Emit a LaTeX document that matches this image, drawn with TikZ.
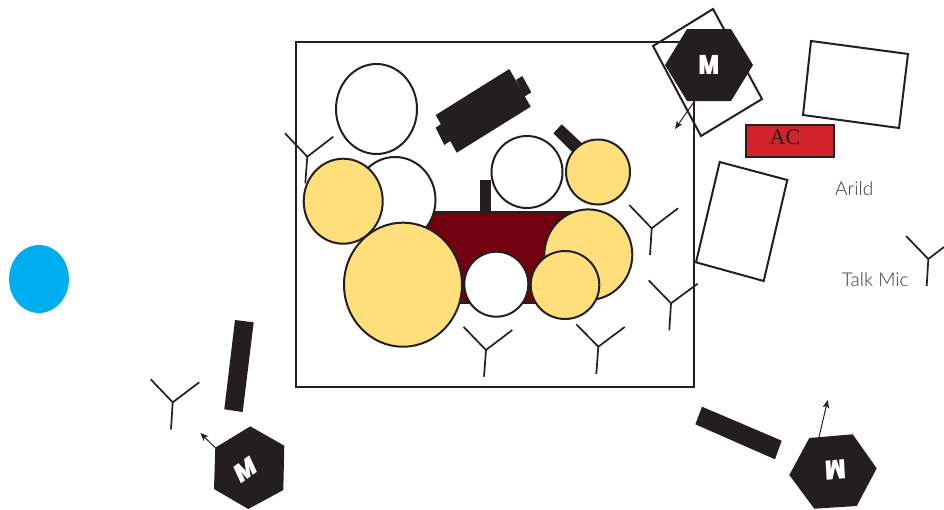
\documentclass[tikz,border=0pt]{standalone}
\usepackage{fontspec}
\usetikzlibrary{arrows.meta}
\newfontfamily\labelfont[UprightFont=* Light]{Lato}
\newfontfamily\acfont{Liberation Serif}
\newfontfamily\mfont[UprightFont=* Black]{Poppins}
\definecolor{ink}{HTML}{231F20}
\definecolor{drumyellow}{HTML}{FFDF7C}
\definecolor{shellred}{HTML}{72000F}
\definecolor{acred}{HTML}{D2232A}
\definecolor{pedalblue}{HTML}{00AEEF}
\newcommand{\micY}[4]{\draw[micline] #1 -- #2 -- #3 #2 -- #4;}
\tikzset{
  x=1pt,y=-1pt,
  frameline/.style={draw=ink,line width=2.1pt},
  outline/.style={draw=ink,line width=2pt},
  micline/.style={draw=ink,line width=1.7pt},
  solidblack/.style={fill=ink,draw=none},
  whitedrum/.style={draw=ink,line width=2pt,fill=white},
  yellowdrum/.style={draw=ink,line width=2pt,fill=drumyellow},
  monarrow/.style={draw=ink,line width=1pt,-{Stealth[length=8pt,width=6.5pt,inset=2pt]}},
  mlabel/.style={text=white,inner sep=0pt,font=\mfont\fontsize{27}{27}\selectfont,xscale=.8},
  softlabel/.style={text=ink!90,inner sep=0pt,anchor=base west,font=\labelfont\fontsize{19}{21}\selectfont},
}
\begin{document}
\begin{tikzpicture}
\useasboundingbox (0,0) rectangle (944,509);
% room
\draw[frameline] (296,42) rectangle (694,387);
% kit
\draw[whitedrum] (376.5,109) ellipse [x radius=40.5,y radius=45];
\micY{(285,133.3)}{(307.3,156.7)}{(333.3,136.7)}{(305.3,183.3)}
\fill[solidblack] (509.3,69) -- (530.7,106.7) -- (456.7,152.7) -- (435.7,115) -- cycle;
\fill[solidblack] (522.3,76) -- (531.3,92.3) -- (524.3,96.7) -- (516,80) -- cycle;
\fill[solidblack] (435.7,127.7) -- (441,124) -- (450.7,140.7) -- (444.3,145) -- cycle;
\fill[solidblack] (561.7,124.3) -- (553.3,133.3) -- (571.7,151.7) -- (581.7,143) -- cycle;
\fill[solidblack] (480,180) rectangle (491,213);
\draw[draw=ink,line width=1.6pt,fill=shellred] (410,212) rectangle (590,303);
\draw[whitedrum] (395,200) ellipse [x radius=40.5,y radius=43];
\draw[whitedrum] (527,172) ellipse [x radius=35.5,y radius=36];
\draw[yellowdrum] (598,172) ellipse [x radius=32,y radius=32.5];
\draw[yellowdrum] (343.2,201.2) ellipse [x radius=39.5,y radius=42.5];
\draw[yellowdrum] (403,284.7) ellipse [x radius=59,y radius=62];
\draw[yellowdrum] (588.3,254.7) ellipse [x radius=44,y radius=45.3];
\draw[whitedrum] (496.3,284.2) ellipse [x radius=32,y radius=32.5];
\draw[yellowdrum] (565,285) ellipse [x radius=34.3,y radius=34];
% mics
\micY{(629.3,205)}{(651.7,228.3)}{(678,208.3)}{(650,255)}
\micY{(648.7,280.3)}{(671,303.3)}{(697.7,283.7)}{(669.3,330.3)}
\micY{(463.7,327)}{(486,350)}{(512.3,330)}{(484,376.7)}
\micY{(576.3,324.3)}{(598.3,346.7)}{(624.7,327)}{(596.3,374)}
\micY{(150.7,379.3)}{(172.7,402.3)}{(199.3,382.3)}{(171,429.3)}
\micY{(906,236)}{(928.3,259)}{(944,247)}{(926.7,286)}
% amps and boxes
\draw[outline] (653,46) -- (713,9) -- (762,99) -- (701,136) -- cycle;
\draw[outline] (811,41) -- (908,54) -- (899,128) -- (803,115) -- cycle;
\draw[outline] (719.7,162) -- (787.3,180) -- (763.7,281) -- (696,262.3) -- cycle;
\node[draw=ink,line width=2pt,fill=acred,minimum width=88pt,minimum height=32pt,inner sep=0pt] (ac) at (789.5,140.5) {};
\node[text=ink,inner sep=0pt,font=\acfont\fontsize{22}{22}\selectfont] (actext) at (785,137.5) {AC};
% monitors
\fill[solidblack] (665,65) -- (687,29) -- (731,29) -- (753,65) -- (731,101) -- (687,101) -- cycle;
\node[mlabel] (m1) at (709,65) {M};
\coordinate (a1s) at (694,102); \coordinate (a1e) at (675,129);
\draw[monarrow] (a1s) -- (a1e);
\fill[solidblack] (235,320) -- (253.7,322.3) -- (242.7,412) -- (224.3,409.3) -- cycle;
\coordinate (a2s) at (215.3,447.7); \coordinate (a2e) at (200.3,433);
\fill[solidblack] (250.3,426.3) -- (284.3,445.7) -- (283.3,490) -- (248.3,509) -- (214,489) -- (a2s) -- cycle;
\draw[monarrow] (a2s) -- (a2e);
\node[mlabel,rotate=30] (m2) at (246,469.3) {M};
\fill[solidblack] (702,406.7) -- (781.7,440.7) -- (775,459.3) -- (695.3,424.3) -- cycle;
\coordinate (a3s) at (819,437); \coordinate (a3e) at (827.7,400);
\fill[solidblack] (809.3,438) -- (852.7,434.3) -- (876.7,468.3) -- (856.7,506) -- (814.3,508.7) -- (789.3,475) -- cycle;
\draw[monarrow] (a3s) -- (a3e);
\node[mlabel,rotate=184] (m3) at (835.3,470) {M};
% pedal
\fill[pedalblue] (39,279) ellipse [x radius=30,y radius=34];
% labels
\node[softlabel] (arild) at (835,195) {Arild};
\node[softlabel] (talk) at (841.7,286) {Talk Mic};
\end{tikzpicture}
\end{document}
